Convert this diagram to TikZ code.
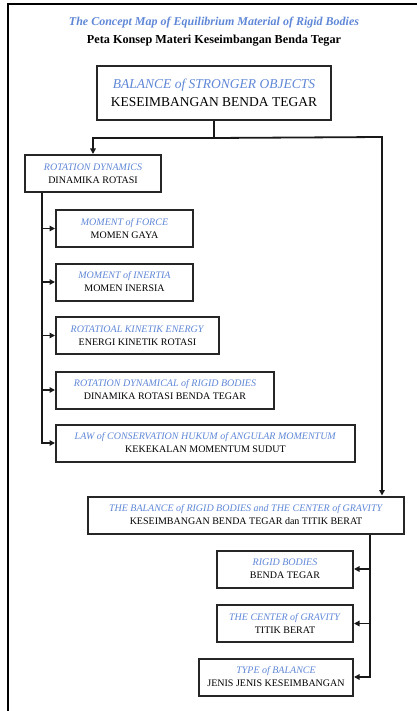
\documentclass[tikz,border=0pt]{standalone}
\usepackage{fontspec}
\setmainfont{Liberation Serif}
\usetikzlibrary{arrows.meta}
\definecolor{engblue}{RGB}{95,135,215}
\begin{document}
\begin{tikzpicture}[x=1pt, y=-1pt,
  box/.style={draw=black!85, line width=2pt, fill=white, align=center,
    inner sep=0pt, minimum height=37pt, font=\fontsize{10}{13}\selectfont},
  bigbox/.style={box, minimum height=54pt, font=\fontsize{13.5}{18}\selectfont},
  link/.style={line width=1.8pt, black!90},
  arr/.style={link, -{Triangle[length=5.5pt, width=5.5pt]}}]
\useasboundingbox (0,0) rectangle (417,711);
% Page frame
\draw[line width=1.6pt] (8,711) -- (8,4) -- (417,4);

% Titles
\node (t1) at (214,23) {\fontsize{12}{13}\selectfont\bfseries\itshape\color{engblue}The Concept Map of Equilibrium Material of Rigid Bodies};
\node (t2) at (214,41) {\fontsize{12.2}{13}\selectfont\bfseries Peta Konsep Materi Keseimbangan Benda Tegar};

% Main concept
\node[bigbox, minimum width=234pt] (main) at (214,93)
  {\textcolor{engblue}{\textit{BALANCE of STRONGER OBJECTS}}\\KESEIMBANGAN BENDA TEGAR};

% Rotation dynamics branch
\node[box, anchor=west, minimum width=136pt] (rot) at (24,173.5)
  {\textcolor{engblue}{\textit{ROTATION DYNAMICS}}\\DINAMIKA ROTASI};
\node[box, anchor=west, minimum width=137pt] (mf) at (55,228.5)
  {\textcolor{engblue}{\textit{MOMENT of FORCE}}\\MOMEN GAYA};
\node[box, anchor=west, minimum width=137pt] (mi) at (55,282)
  {\textcolor{engblue}{\textit{MOMENT of INERTIA}}\\MOMEN INERSIA};
\node[box, anchor=west, minimum width=163pt] (ke) at (55,335.5)
  {\textcolor{engblue}{\textit{ROTATIOAL KINETIK ENERGY}}\\ENERGI KINETIK ROTASI};
\node[box, anchor=west, minimum width=218pt] (rd) at (55,390)
  {\textcolor{engblue}{\textit{ROTATION DYNAMICAL of RIGID BODIES}}\\DINAMIKA ROTASI BENDA TEGAR};
\node[box, anchor=west, minimum width=299pt] (law) at (55,443)
  {\textcolor{engblue}{\textit{LAW of CONSERVATION HUKUM of ANGULAR MOMENTUM}}\\KEKEKALAN MOMENTUM SUDUT};

% Balance and center of gravity branch
\node[box, anchor=west, minimum width=316pt] (bal) at (87,515)
  {\textcolor{engblue}{\textit{THE BALANCE of RIGID BODIES and THE CENTER of GRAVITY}}\\KESEIMBANGAN BENDA TEGAR dan TITIK BERAT};
\node[box, anchor=east, minimum width=136pt] (rb) at (354,569)
  {\textcolor{engblue}{\textit{RIGID BODIES}}\\BENDA TEGAR};
\node[box, anchor=east, minimum width=136pt] (cg) at (354,623.5)
  {\textcolor{engblue}{\textit{THE CENTER of GRAVITY}}\\TITIK BERAT};
\node[box, anchor=east, minimum width=154pt] (tb) at (354,677)
  {\textcolor{engblue}{\textit{TYPE of BALANCE}}\\JENIS JENIS KESEIMBANGAN};

% Connectors from the main concept
\coordinate (split) at ([yshift=-17pt]main.south);
\coordinate (rturn) at (382,137);
\draw[link] (main.south) -- (split);
\draw[arr] (split) -| (rot.north);
\draw[arr] (split) -- (rturn) -- (rturn |- bal.north);

% Left spine
\coordinate (lsp) at ([xshift=18pt]rot.south west);
\draw[arr] (lsp) |- (law.west);
\foreach \n in {mf, mi, ke, rd}
  \draw[arr] (lsp |- \n.west) -- (\n.west);

% Right spine
\coordinate (rsp) at ([xshift=-35pt]bal.south east);
\draw[arr] (rsp) |- (tb.east);
\foreach \n in {rb, cg}
  \draw[arr] (rsp |- \n.east) -- (\n.east);

\end{tikzpicture}
\end{document}
